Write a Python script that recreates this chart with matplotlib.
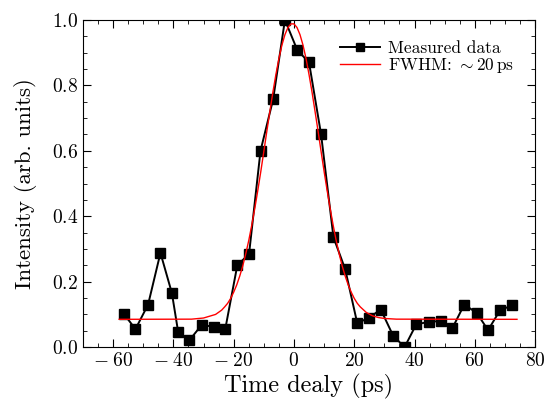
import matplotlib
matplotlib.use("Agg")
import matplotlib.pyplot as plt
from matplotlib.ticker import MultipleLocator

plt.rcParams['font.family'] = 'serif'
plt.rcParams['font.serif'] = ['cmr10']
plt.rcParams['mathtext.fontset'] = 'cm'
plt.rcParams['axes.formatter.use_mathtext'] = True

# measured autocorrelation points
delay = [-56.3, -52.6, -48.4, -44.3, -40.5, -38.4, -34.7, -30.6, -26.6, -22.8,
         -18.8, -14.9, -11.1, -6.9, -3.0, 1.1, 5.0, 9.0, 13.1, 17.0,
         21.0, 24.9, 28.8, 32.9, 36.7, 40.6, 44.8, 48.7, 52.5, 56.5,
         60.6, 64.4, 68.4, 72.5]
intensity = [0.100, 0.055, 0.130, 0.288, 0.165, 0.045, 0.021, 0.068, 0.062, 0.055,
             0.250, 0.285, 0.600, 0.758, 1.000, 0.908, 0.870, 0.650, 0.336, 0.238,
             0.073, 0.090, 0.115, 0.035, 0.000, 0.070, 0.077, 0.080, 0.057, 0.130,
             0.105, 0.052, 0.113, 0.128]

# fitted curve
fit_x = [-58, -34, -30, -26, -24, -23, -22, -21, -20, -19, -18, -17, -16, -15, -14,
         -13, -12, -11, -10, -9, -8, -7, -6, -5, -4, -3, -2, -1, 0, 1, 2, 3, 4,
         5, 6, 7, 8, 9, 10, 11, 12, 13, 14, 15, 16, 17, 18, 19, 20, 21, 22,
         24, 26, 28, 30, 34, 74]
fit_y = [0.085, 0.0855, 0.089, 0.100, 0.113, 0.123, 0.134, 0.149, 0.168, 0.190,
         0.217, 0.248, 0.285, 0.326, 0.373, 0.424, 0.479, 0.537, 0.598, 0.660,
         0.720, 0.779, 0.833, 0.882, 0.923, 0.955, 0.977, 0.988, 0.988, 0.977,
         0.955, 0.923, 0.882, 0.833, 0.779, 0.720, 0.660, 0.598, 0.537, 0.479,
         0.424, 0.373, 0.326, 0.285, 0.248, 0.217, 0.190, 0.168, 0.149, 0.134,
         0.123, 0.106, 0.096, 0.0905, 0.0876, 0.0855, 0.085]

fig = plt.figure(figsize=(5.46, 3.99), dpi=100)
ax = fig.add_axes([0.152, 0.130, 0.828, 0.820])

ax.plot(delay, intensity, color='black', lw=1.4, marker='s', ms=7,
        label='Measured data')
ax.plot(fit_x, fit_y, color='red', lw=1.0, label=r'FWHM: $\sim 20\,\mathrm{ps}$')

ax.set_xlim(-70, 80)
ax.set_ylim(0, 1.0)
ax.xaxis.set_major_locator(MultipleLocator(20))
ax.xaxis.set_minor_locator(MultipleLocator(5))
ax.yaxis.set_major_locator(MultipleLocator(0.2))
ax.yaxis.set_minor_locator(MultipleLocator(0.05))
ax.tick_params(which='both', direction='in', top=True, right=True, labelsize=14)
ax.tick_params(which='major', length=6)
ax.tick_params(which='minor', length=3)


def xfmt(v, p):
    if v < 0:
        return r'$-\;%d$' % abs(v)
    return '$%d$' % v


ax.xaxis.set_major_formatter(plt.FuncFormatter(xfmt))
ax.yaxis.set_major_formatter(plt.FuncFormatter(lambda v, p: '$%.1f$' % v))

ax.set_xlabel('Time dealy (ps)', fontsize=17.5, labelpad=3)
ax.set_ylabel('Intensity (arb. units)', fontsize=16.5, labelpad=11)
leg = ax.legend(loc='upper right', frameon=False, fontsize=12.5, handlelength=2.3,
                borderaxespad=0.8, labelspacing=0.0, handletextpad=0.5,
                markerscale=0.8)

fig.savefig('out.png', dpi=100)
